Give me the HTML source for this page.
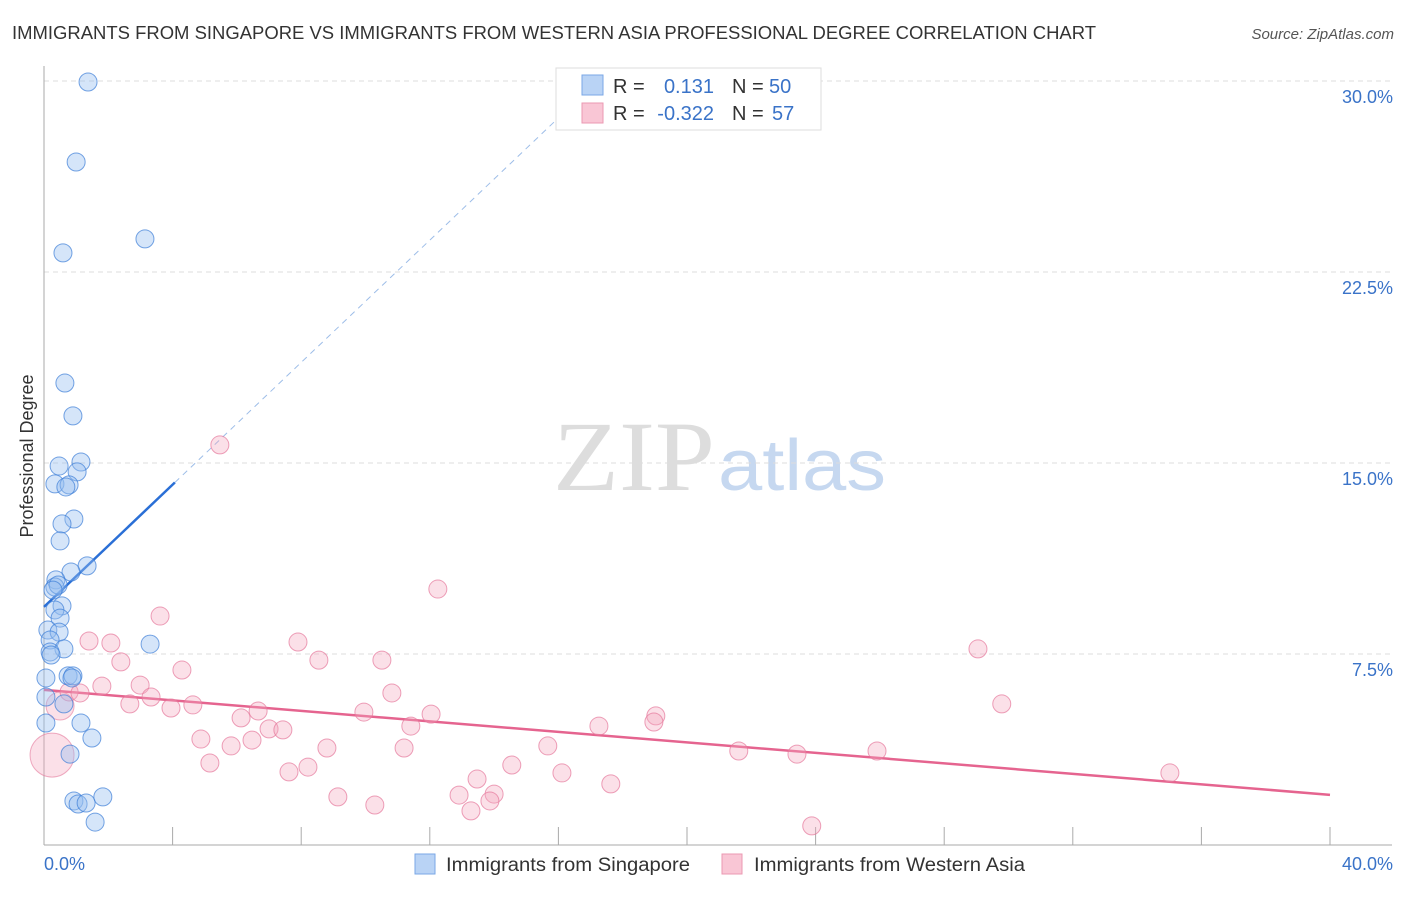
<!DOCTYPE html>
<html><head><meta charset="utf-8"><style>
body{margin:0;background:#fff;font-family:"Liberation Sans",sans-serif;}
svg text{font-family:"Liberation Sans",sans-serif;}
</style></head><body>
<svg id="chart" width="1406" height="892" xmlns="http://www.w3.org/2000/svg">
<text x="12" y="39" font-size="18" fill="#333" textLength="1084" lengthAdjust="spacingAndGlyphs">IMMIGRANTS FROM SINGAPORE VS IMMIGRANTS FROM WESTERN ASIA PROFESSIONAL DEGREE CORRELATION CHART</text>
<text x="1394" y="39" font-size="15" fill="#555" text-anchor="end" font-style="italic">Source: ZipAtlas.com</text>
<text transform="translate(33,456) rotate(-90)" font-size="18" fill="#333" text-anchor="middle">Professional Degree</text>
<g><text x="553" y="490" font-size="100" fill="#ddd" style="font-family:'Liberation Serif',serif" textLength="162" lengthAdjust="spacingAndGlyphs">ZIP</text><text x="718" y="490" font-size="72" fill="#c6d8f0" textLength="168" lengthAdjust="spacingAndGlyphs">atlas</text></g>
<g id="grid"></g><g id="axes"></g><g id="trends"></g><g id="pts"></g>
<g>
<rect x="556" y="68" width="265" height="62" fill="#fff" stroke="#ddd"/>
<rect x="582" y="75" width="21" height="20" fill="#b9d3f5" stroke="#7aa7e6"/>
<rect x="582" y="103" width="21" height="20" fill="#f9c6d5" stroke="#eb98b2"/>
<text x="613" y="93" font-size="20" fill="#333">R =</text><text x="714" y="93" font-size="20" fill="#3a73c8" text-anchor="end">0.131</text>
<text x="732" y="93" font-size="20" fill="#333">N =</text><text x="769" y="93" font-size="20" fill="#3a73c8">50</text>
<text x="613" y="120" font-size="20" fill="#333">R =</text><text x="714" y="120" font-size="20" fill="#3a73c8" text-anchor="end">-0.322</text>
<text x="732" y="120" font-size="20" fill="#333">N =</text><text x="772" y="120" font-size="20" fill="#3a73c8">57</text>
</g>
<g>
<rect x="415" y="854" width="20" height="20" fill="#b9d3f5" stroke="#7aa7e6"/>
<text x="446" y="871" font-size="19" fill="#333" textLength="244" lengthAdjust="spacingAndGlyphs">Immigrants from Singapore</text>
<rect x="722" y="854" width="20" height="20" fill="#f9c6d5" stroke="#eb98b2"/>
<text x="754" y="871" font-size="19" fill="#333" textLength="271" lengthAdjust="spacingAndGlyphs">Immigrants from Western Asia</text>
</g>
</svg>
<script>
const xTicks=[0,4,8,12,16,20,24,28,32,36,40];
const yTicks=[7.5,15,22.5,30];
const yTickLabels=["7.5%","15.0%","22.5%","30.0%"];
const blueX=[1.37,1.00,3.14,0.59,0.65,0.90,1.15,0.47,1.03,0.34,0.78,0.68,0.93,0.56,0.50,1.34,0.84,0.37,0.34,0.44,0.28,0.56,0.34,0.50,0.12,0.47,0.19,0.62,0.19,0.22,3.30,0.75,0.90,0.87,0.06,0.06,0.62,1.15,1.49,0.06,0.81,0.93,1.06,1.31,1.83,1.59];
const blueY=[29.96,26.82,23.80,23.25,18.14,16.85,15.04,14.88,14.65,14.18,14.14,14.06,12.80,12.61,11.94,10.96,10.72,10.41,10.13,10.21,10.01,9.39,9.23,8.91,8.44,8.36,8.05,7.70,7.58,7.46,7.89,6.64,6.64,6.56,6.56,5.81,5.54,4.79,4.20,4.79,3.57,1.73,1.61,1.65,1.89,0.90];
const pinkX=[5.47,12.25,3.61,1.40,2.08,7.90,2.39,8.55,10.51,4.29,29.05,1.80,2.99,0.78,1.12,3.33,10.82,2.67,3.95,4.63,6.66,6.13,9.95,12.04,29.79,19.03,18.97,17.26,11.41,7.00,7.43,6.47,4.88,5.82,8.80,11.20,15.67,21.61,23.42,25.91,5.16,8.21,7.62,14.55,16.11,13.47,17.63,35.02,9.14,12.91,14.00,13.87,10.29,13.28,23.88];
const pinkY=[15.71,10.05,8.99,8.01,7.93,7.97,7.19,7.26,7.26,6.87,7.70,6.24,6.28,6.01,5.97,5.81,5.97,5.54,5.38,5.50,5.26,4.99,5.22,5.14,5.54,5.07,4.83,4.67,4.67,4.56,4.52,4.12,4.16,3.89,3.81,3.81,3.89,3.69,3.57,3.69,3.22,3.06,2.87,3.14,2.83,2.59,2.40,2.83,1.89,1.96,2.00,1.73,1.57,1.34,0.75];
const pinkBigX=[0.25,0.50];
const pinkBigY=[3.53,5.46];
const pinkBigR=[22,14];
const blueTrend=[9.35,1.2];   // intercept, slope
const pinkTrend=[6.09,-0.103];
const NS="http://www.w3.org/2000/svg";
const X=v=>44+v/40*1286, Y=v=>845-v/7.5*191;
function mk(t,a,p){const e=document.createElementNS(NS,t);for(const k in a)e.setAttribute(k,a[k]);document.getElementById(p).appendChild(e);return e;}
yTicks.forEach((t,i)=>{
 const g=mk('line',{x1:44,x2:1392,y1:Y(t),y2:Y(t),stroke:'#ddd','stroke-dasharray':'5,4'},'grid');
 
 
 const l=mk('text',{x:1393,y:Y(t)+22,'font-size':18,fill:'#3a73c8','text-anchor':'end'},'grid');l.textContent=yTickLabels[i];
 
 
});
mk('line',{x1:44,x2:44,y1:66,y2:845,stroke:'#aaa'},'axes');
mk('line',{x1:44,x2:1392,y1:845,y2:845,stroke:'#aaa'},'axes');
xTicks.forEach(t=>{const e=mk('line',{x1:X(t),x2:X(t),y1:827,y2:845,stroke:'#aaa'},'axes');
 
 });
const xl0=mk('text',{x:44,y:870,'font-size':18,fill:'#3a73c8'},'axes');xl0.textContent=xTicks[0].toFixed(1)+'%';


const xl1=mk('text',{x:1393,y:870,'font-size':18,fill:'#3a73c8','text-anchor':'end'},'axes');xl1.textContent=xTicks[xTicks.length-1].toFixed(1)+'%';


const bEnd=(30-blueTrend[0])/blueTrend[1];
const bd=mk('line',{x1:X(4.07),y1:Y(blueTrend[0]+blueTrend[1]*4.07),x2:X(bEnd),y2:Y(30),stroke:'#9dbde8','stroke-dasharray':'6,5','stroke-width':1},'trends');


const bs=mk('line',{x1:X(0),y1:Y(blueTrend[0]),x2:X(4.07),y2:Y(blueTrend[0]+blueTrend[1]*4.07),stroke:'#2a6fd6','stroke-width':2.5},'trends');


const ps=mk('line',{x1:X(0),y1:Y(pinkTrend[0]),x2:X(40),y2:Y(pinkTrend[0]+pinkTrend[1]*40),stroke:'#e5648f','stroke-width':2.5},'trends');


pinkBigX.forEach((v,i)=>{const c=mk('circle',{cx:X(v),cy:Y(pinkBigY[i]),r:pinkBigR[i],fill:'rgba(243,165,190,0.35)',stroke:'rgba(229,120,155,0.6)'},'pts');
 
 });
pinkX.forEach((v,i)=>{const c=mk('circle',{cx:X(v),cy:Y(pinkY[i]),r:9,fill:'rgba(243,165,190,0.35)',stroke:'rgba(229,120,155,0.7)'},'pts');
 
 });
blueX.forEach((v,i)=>{const c=mk('circle',{cx:X(v),cy:Y(blueY[i]),r:9,fill:'rgba(150,190,240,0.4)',stroke:'rgba(60,125,215,0.7)'},'pts');
 
 });
</script>
</body></html>
